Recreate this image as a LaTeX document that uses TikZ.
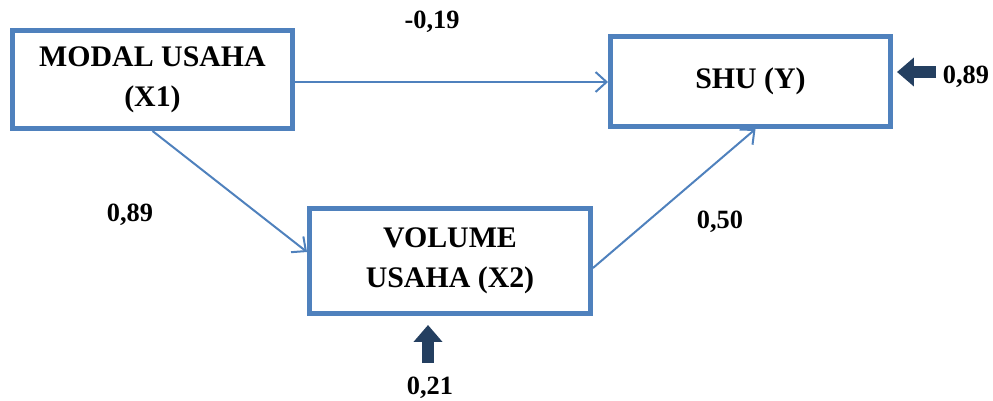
\documentclass[tikz,border=0pt]{standalone}
\usepackage{fontspec}
\setmainfont{Liberation Serif}
\usetikzlibrary{arrows.meta}
\definecolor{boxblue}{HTML}{4F81BD}
\definecolor{navy}{HTML}{243F60}
\tikzset{
    box/.style={draw=boxblue, line width=0.1cm, align=center, font=\fontsize{17}{23}\selectfont\bfseries},
    link/.style={boxblue, line width=0.04cm, -{Straight Barb[length=0.22cm,width=0.4cm]}},
    resid/.style={navy, line width=0.24cm, -{Triangle[length=0.34cm,width=0.56cm]}},
    coef/.style={font=\fontsize{15}{18}\selectfont\bfseries},
}

\begin{document}
\begin{tikzpicture}[x=0.02cm,y=-0.02cm]
        \useasboundingbox (0,0) rectangle (993,400);
        % variabel
        \node[box, minimum width=5.6cm, minimum height=1.96cm] (modal) at (152.5,79.5) {MODAL USAHA\\(X1)};
        \node[box, minimum width=5.6cm, minimum height=1.8cm] (shu) at (750.5,81.5) {SHU (Y)};
        \node[box, minimum width=5.62cm, minimum height=2.1cm] (volume) at (450,261) {VOLUME\\USAHA (X2)};
        % jalur
        \draw[link] (modal.east |- 0,82) -- (shu.west |- 0,82);
        \draw[link] (modal.south) -- ([yshift=0.18cm]volume.west);
        \draw[link] ([yshift=-0.14cm]volume.east) -- ([xshift=0.1cm]shu.south);
        % residu
        \coordinate (ey) at (936,72);
        \coordinate (ex) at (428,363);
        \draw[resid] (ey) -- (ey -| shu.east) [shorten >=0.08cm];
        \draw[resid] (ex) -- (ex |- volume.south) [shorten >=0.18cm];
        % koefisien
        \node[coef] (p1) at (432,22) {-0,19};
        \node[coef] (p2) at (130,215) {0,89};
        \node[coef] (p3) at (720,222) {0,50};
        \node[coef] (r1) at (966,77) {0,89};
        \node[coef] (r2) at (430,388) {0,21};
    \end{tikzpicture}
\end{document}
